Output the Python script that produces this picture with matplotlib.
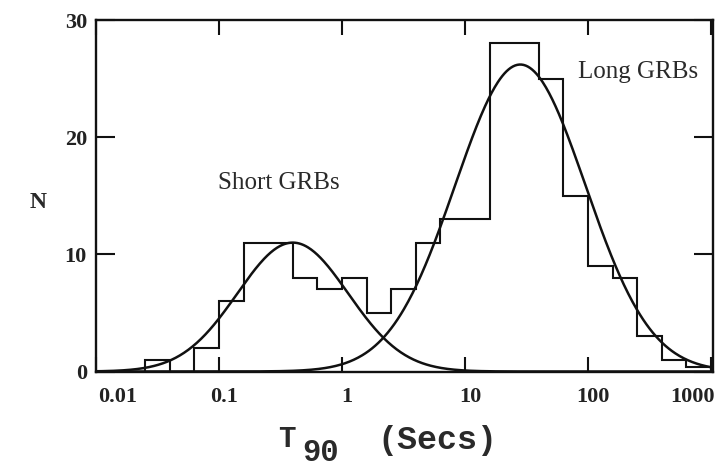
import numpy as np
import matplotlib.pyplot as plt
import matplotlib.transforms as mtransforms

# histogram of log10(T90), 0.2 dex bins
bin_edges_log = [-1.6, -1.4, -1.2, -1.0, -0.8, -0.6, -0.4, -0.2, 0.0, 0.2, 0.4, 0.6,
                 0.8, 1.0, 1.2, 1.4, 1.6, 1.8, 2.0, 2.2, 2.4, 2.6, 2.8, 3.0]
counts = [1, 0, 2, 6, 11, 11, 8, 7, 8, 5, 7, 11,
          13, 13, 28, 28, 25, 15, 9, 8, 3, 1, 0.4]

# gaussian fits in log10(T90): peak height, centre, width
short_peak, short_mu, short_sigma = 11.0, -0.40, 0.45
long_peak, long_mu, long_sigma = 26.2, 1.45, 0.53

x_ticks = [0.01, 0.1, 1, 10, 100, 1000]
x_tick_labels = ['0.01', '0.1', '1', '10', '100', '1000']
y_ticks = [0, 10, 20, 30]

W, H = 720, 467
fig = plt.figure(figsize=(W / 100, H / 100), dpi=100)
ax = fig.add_axes([96 / W, 1 - 371.5 / H, (713 - 96) / W, (371.5 - 20) / H])

ink = '#111111'
edges = 10 ** np.array(bin_edges_log)
ax.stairs(counts, edges, color=ink, lw=1.5)

grid = np.linspace(-2.1, 3.1, 600)
for peak, mu, sigma in [(short_peak, short_mu, short_sigma), (long_peak, long_mu, long_sigma)]:
    ax.plot(10 ** grid, peak * np.exp(-(grid - mu) ** 2 / (2 * sigma ** 2)), color=ink, lw=1.8)

ax.set_xscale('log')
ax.set_xlim(0.01, 1040)
ax.set_ylim(0, 30)
ax.set_xticks(x_ticks)
ax.set_xticklabels(x_tick_labels)
ax.xaxis.set_minor_locator(plt.NullLocator())
ax.set_yticks(y_ticks)

for s in ax.spines.values():
    s.set_linewidth(1.7)
    s.set_color(ink)

tick_font = dict(family='Liberation Serif', weight='bold', size=16)
ax.tick_params(axis='x', direction='in', length=11, width=1.5, top=True, pad=11, colors=ink)
ax.tick_params(axis='y', direction='in', length=14, width=1.5, right=True, pad=6.5, colors=ink)
for lab in ax.get_xticklabels() + ax.get_yticklabels():
    lab.set_fontproperties(tick_font)
    lab.set_color('#222222')

# shift x tick labels like in the original print
xl = ax.get_xticklabels()
for i, lab in enumerate(xl):
    if i == 0:
        lab.set_horizontalalignment('left')
        dx = 2
    elif i == len(xl) - 1:
        lab.set_horizontalalignment('right')
        dx = 4
    else:
        dx = 5
    lab.set_transform(lab.get_transform() + mtransforms.ScaledTranslation(dx / 100, 0, fig.dpi_scale_trans))

txt = '#2a2a2a'
fig.text(218 / W, 1 - 183 / H, 'Short GRBs', family='Liberation Serif', size=18,
         color=txt, ha='left', va='center')
fig.text(578 / W, 1 - 72 / H, 'Long GRBs', family='Liberation Serif', size=18,
         color=txt, ha='left', va='center')

fig.text(38 / W, 1 - 203 / H, 'N', family='Liberation Serif', weight='bold', size=17,
         color=txt, ha='center', va='center')
fig.text(287 / W, 1 - 439 / H, 'T', family='Liberation Mono', weight='bold', size=21,
         color=txt, ha='center', va='center')
fig.text(321 / W, 1 - 453 / H, '90', family='Liberation Mono', weight='bold', size=22,
         color=txt, ha='center', va='center')
fig.text(437 / W, 1 - 440 / H, '(Secs)', family='Liberation Mono', weight='bold', size=24,
         color=txt, ha='center', va='center')

fig.savefig('out.png', dpi=100)
